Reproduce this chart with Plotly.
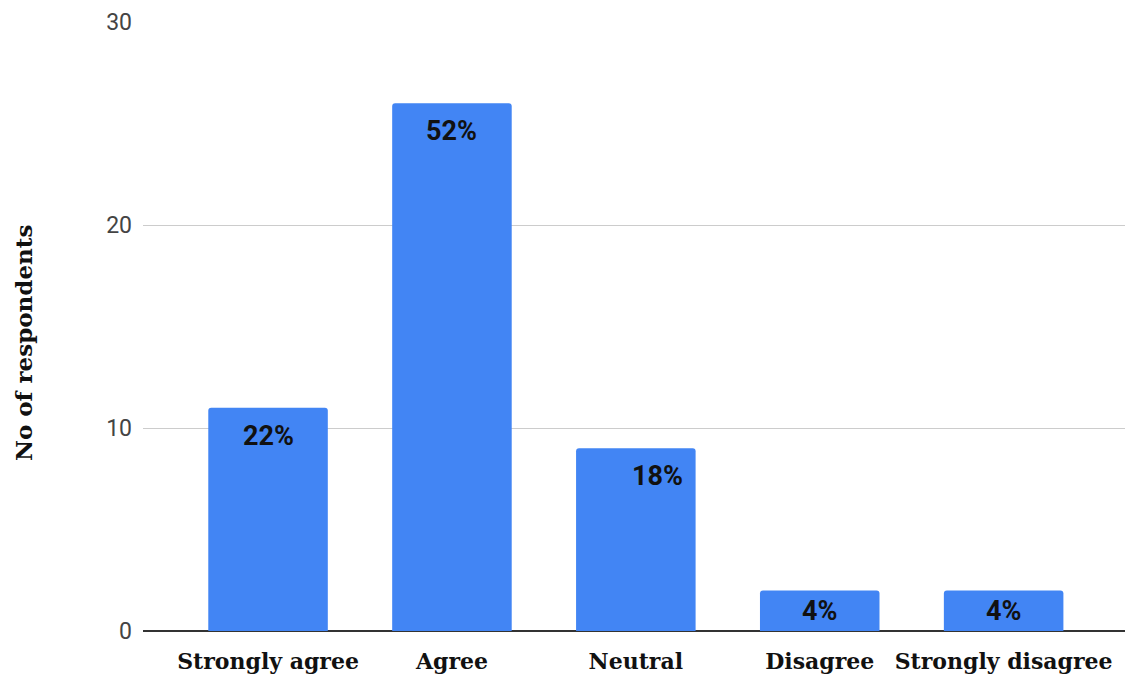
import plotly.graph_objects as go

# Survey responses
categories = ["Strongly agree", "Agree", "Neutral", "Disagree", "Strongly disagree"]
respondents = [11, 26, 9, 2, 2]
pct_labels = ["22%", "52%", "18%", "4%", "4%"]
label_xshift = [0, 0, 22, 0, 0]

BAR_COLOR = "#4285F4"
SERIF = "DejaVu Serif, Liberation Serif, serif"
SANS = "Roboto, Arial, sans-serif"

Y_MAX = 30
PLOT_TOP, PLOT_BOTTOM = 22, 46
FIG_W, FIG_H = 1125, 677
plot_h = FIG_H - PLOT_TOP - PLOT_BOTTOM
LABEL_INSET = 28  # px from bar top to label centre

fig = go.Figure(
    go.Bar(
        x=list(range(len(categories))),
        y=respondents,
        marker=dict(color=BAR_COLOR, line=dict(width=0), cornerradius=3),
        width=0.65,
        hoverinfo="skip",
    )
)

# Percentage labels: near the top of tall bars, centred in short ones
for i, (v, t, dx) in enumerate(zip(respondents, pct_labels, label_xshift)):
    bar_px = v / Y_MAX * plot_h
    if bar_px > 2 * LABEL_INSET:
        y_val, dy = v, -LABEL_INSET
    else:
        y_val, dy = v / 2, 0
    fig.add_annotation(
        x=i, y=y_val, text=f"<b>{t}</b>", showarrow=False,
        yanchor="middle", yshift=dy, xshift=dx,
        font=dict(family=SANS, size=27, color="#111111"),
    )

# Vertical axis title
fig.add_annotation(
    xref="paper", yref="paper", x=-0.121, y=0.473,
    text="<b>No of respondents</b>", textangle=-90, showarrow=False,
    xanchor="center", yanchor="middle",
    font=dict(family=SERIF, size=23, color="#111111"),
)

fig.update_layout(
    width=FIG_W, height=FIG_H,
    margin=dict(l=143, r=0, t=PLOT_TOP, b=PLOT_BOTTOM),
    paper_bgcolor="white", plot_bgcolor="white",
    showlegend=False,
    xaxis=dict(
        range=[-0.68, 4.66],
        tickmode="array",
        tickvals=list(range(len(categories))),
        ticktext=[f"<b>{c}</b>" for c in categories],
        tickfont=dict(family=SERIF, size=22, color="#111111"),
        showgrid=False, zeroline=False, showline=False, ticks="",
        ticklabelstandoff=15,
    ),
    yaxis=dict(
        range=[0, Y_MAX],
        tickvals=[0, 10, 20, 30],
        tickfont=dict(family=SANS, size=23, color="#444444"),
        showgrid=True, gridcolor="#cccccc", gridwidth=1,
        zeroline=True, zerolinecolor="#333333", zerolinewidth=1.5,
        showline=False, ticks="", ticklabelstandoff=10,
    ),
)

fig.write_html("out.html")
